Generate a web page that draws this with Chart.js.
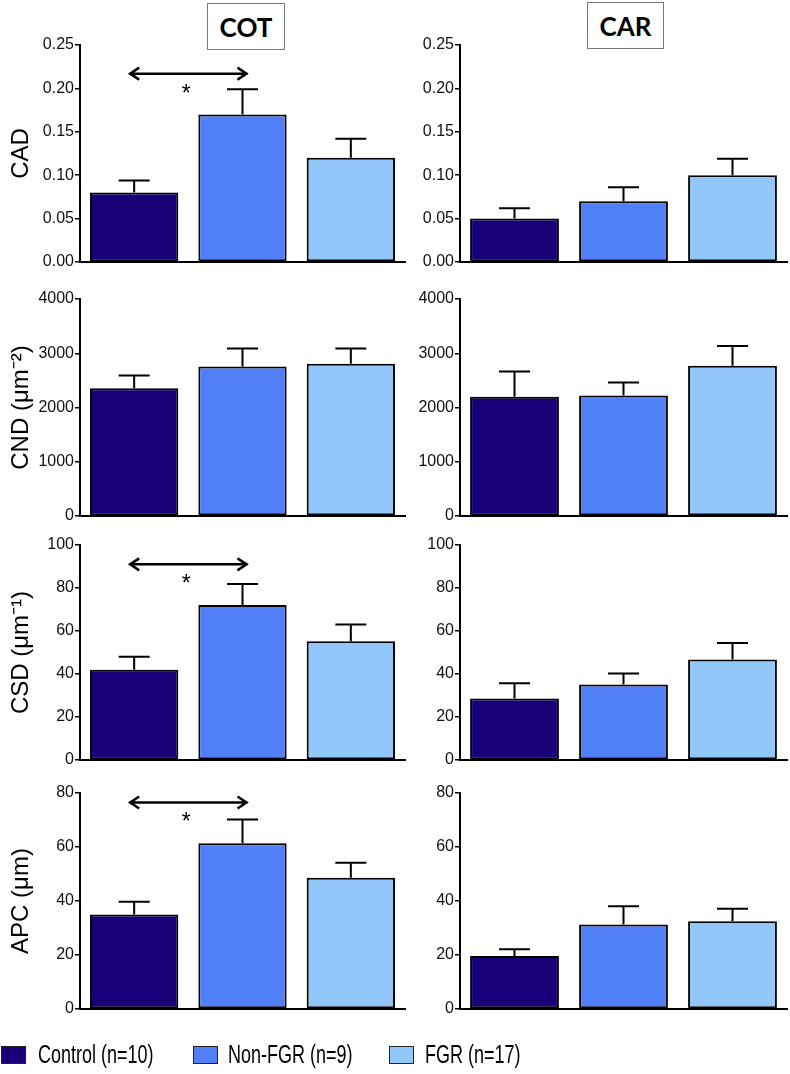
<!DOCTYPE html>
<html><head><meta charset="utf-8">
<script src="https://cdn.jsdelivr.net/npm/chart.js@4.4.1/dist/chart.umd.min.js"></script>
<style>
html,body{margin:0;padding:0;background:#fff;width:790px;height:1074px;overflow:hidden;position:relative;font-family:'Liberation Sans',Arial,sans-serif}
.layer{position:absolute;left:0;top:0;width:790px;height:1074px}
.colTitle{position:absolute;box-sizing:border-box;border:1.5px solid #7a7a7a;font-family:Lato,'Open Sans',sans-serif;font-weight:bold;font-size:26px;display:flex;align-items:center;justify-content:center;color:#000;background:#fff}
.lg{position:absolute;top:1043px;height:24px}
.sw{position:absolute;top:3px;width:25px;height:18px;border:1px solid #222;box-sizing:border-box}
.lt{position:absolute;top:-4px;font-size:25px;line-height:30px;color:#000;white-space:nowrap;transform:scaleX(0.72);transform-origin:0 50%}
</style>
</head><body>
<div id="root"></div>
<script>
// ---------- DATA ----------
const categories = ['Control (n=10)', 'Non-FGR (n=9)', 'FGR (n=17)'];
const columnTitles = ['COT', 'CAR'];
const measureLabels = ['CAD', 'CND (\u03bcm\u207b\u00b2)', 'CSD (\u03bcm\u207b\u00b9)', 'APC (\u03bcm)'];

const cadCot = [0.08, 0.17, 0.12];
const cadCotSem = [0.014, 0.029, 0.022];
const cadCar = [0.05, 0.07, 0.10];
const cadCarSem = [0.012, 0.016, 0.019];

const cndCot = [2355, 2757, 2807];
const cndCotSem = [235, 330, 280];
const cndCar = [2197, 2222, 2769];
const cndCarSem = [468, 240, 363];

const csdCot = [42, 72.1, 55.2];
const csdCotSem = [6, 9.8, 7.8];
const csdCar = [28.6, 35.1, 46.8];
const csdCarSem = [7.1, 5.1, 7.6];

const apcCot = [35, 61.4, 48.6];
const apcCotSem = [4.7, 8.8, 5.6];
const apcCar = [19.6, 31.3, 32.5];
const apcCarSem = [2.5, 6.8, 4.6];

// y-axis ranges (max, step, decimals)
const axisMax = [0.25, 4000, 100, 80];
const axisStep = [0.05, 1000, 20, 20];
const axisDecimals = [2, 0, 0, 0];

// significance bracket (Control vs Non-FGR) value level per row, COT column only
const sigLevelCot = [0.217, null, 91, 76.5];

// ---------- STYLE / LAYOUT ----------
const barColors = ['#180079', '#507ff8', '#92c8f9'];
const rowTop = [45, 299, 545, 793];
const rowBottom = [262, 516, 760, 1009];
const colAxisX = [80, 460];
const colRightX = [405, 787];
const W = 790, H = 1074;

Chart.defaults.font.family = "'Liberation Sans', Arial, sans-serif";
Chart.defaults.color = '#111';

const errPlugin = {
  id: 'errbars',
  afterDatasetsDraw(chart) {
    const ctx = chart.ctx;
    const ds = chart.data.datasets[0];
    const meta = chart.getDatasetMeta(0);
    const y = chart.scales.y;
    ctx.save();
    ctx.strokeStyle = '#000';
    ctx.lineWidth = 2;
    ctx.lineCap = 'butt';
    meta.data.forEach((bar, i) => {
      const v = ds.data[i], e = ds.sem[i];
      const yb = y.getPixelForValue(v) , yt = y.getPixelForValue(v + e);
      ctx.beginPath();
      ctx.moveTo(bar.x, yb); ctx.lineTo(bar.x, yt);
      ctx.moveTo(bar.x - 15.5, yt); ctx.lineTo(bar.x + 15.5, yt);
      ctx.stroke();
    });
    if (ds.sig != null) {
      const ya = y.getPixelForValue(ds.sig);
      const x0 = meta.data[0].x - 5, x1 = meta.data[1].x + 5;
      ctx.lineWidth = 2.5;
      ctx.lineJoin = 'miter';
      ctx.beginPath();
      ctx.moveTo(x0, ya); ctx.lineTo(x1, ya);
      ctx.moveTo(x0 + 10, ya - 6); ctx.lineTo(x0 + 1, ya); ctx.lineTo(x0 + 10, ya + 6);
      ctx.moveTo(x1 - 10, ya - 6); ctx.lineTo(x1 - 1, ya); ctx.lineTo(x1 - 10, ya + 6);
      ctx.stroke();
      ctx.fillStyle = '#000';
      ctx.font = "23px 'Liberation Sans', Arial, sans-serif";
      ctx.textAlign = 'center';
      ctx.textBaseline = 'alphabetic';
      ctx.fillText('*', (x0 + x1) / 2 - 2, ya + 27);
    }
    ctx.restore();
  }
};

const rows = [
  [[cadCot, cadCotSem], [cadCar, cadCarSem]],
  [[cndCot, cndCotSem], [cndCar, cndCarSem]],
  [[csdCot, csdCotSem], [csdCar, csdCarSem]],
  [[apcCot, apcCotSem], [apcCar, apcCarSem]],
];

const root = document.getElementById('root');
rows.forEach((row, r) => {
  row.forEach(([vals, sem], c) => {
    const div = document.createElement('div');
    div.className = 'layer';
    const cv = document.createElement('canvas');
    cv.width = W; cv.height = H;
    cv.style.width = W + 'px'; cv.style.height = H + 'px';
    div.appendChild(cv);
    root.appendChild(div);
    const yWidth = 80;
    const padLeft = colAxisX[c] - yWidth;
    new Chart(cv.getContext('2d'), {
      type: 'bar',
      data: {
        labels: categories,
        datasets: [{
          data: vals,
          sem: sem,
          sig: c === 0 ? sigLevelCot[r] : null,
          backgroundColor: barColors,
          borderColor: '#000',
          borderWidth: 2,
          borderSkipped: false,
          categoryPercentage: 1,
          barPercentage: 0.815
        }]
      },
      options: {
        responsive: false,
        animation: false,
        devicePixelRatio: 1,
        events: [],
        layout: { padding: { left: padLeft, right: W - colRightX[c], top: rowTop[r], bottom: H - rowBottom[r] } },
        plugins: { legend: { display: false }, tooltip: { enabled: false }, title: { display: false } },
        scales: {
          x: {
            grid: { display: false },
            ticks: { display: false },
            border: { display: true, color: '#000', width: 2 },
            afterFit(s) { s.height = 0; }
          },
          y: {
            min: 0, max: axisMax[r],
            grid: { drawOnChartArea: false, drawTicks: true, tickLength: 5, color: '#000', lineWidth: 1.5 },
            border: { display: true, color: '#000', width: 2 },
            ticks: {
              stepSize: axisStep[r],
              padding: 1,
              color: '#111',
              font: { size: 16 },
              callback: v => Number(v).toFixed(axisDecimals[r])
            },
            title: {
              display: c === 0,
              text: measureLabels[r],
              color: '#000',
              font: { size: 24 },
              padding: { top: 7, bottom: 0 }
            },
            afterFit(s) { s.width = yWidth; }
          }
        }
      },
      plugins: [errPlugin]
    });
  });
});

// column titles
const titleBoxes = [[207, 3, 78, 47], [587, 2, 77, 47]];
columnTitles.forEach((t, i) => {
  const d = document.createElement('div');
  d.className = 'colTitle';
  const [x, y, w, h] = titleBoxes[i];
  Object.assign(d.style, { left: x + 'px', top: y + 'px', width: w + 'px', height: h + 'px' });
  d.textContent = t;
  root.appendChild(d);
});

// legend
const legendX = [[1, 38], [193, 228], [389, 425]];
categories.forEach((cat, i) => {
  const sw = document.createElement('div');
  sw.className = 'lg';
  sw.style.left = '0px';
  const box = document.createElement('div');
  box.className = 'sw';
  box.style.left = legendX[i][0] + 'px';
  box.style.background = barColors[i];
  const txt = document.createElement('div');
  txt.className = 'lt';
  txt.style.left = legendX[i][1] + 'px';
  txt.textContent = cat;
  sw.appendChild(box); sw.appendChild(txt);
  root.appendChild(sw);
});
</script>
</body></html>
